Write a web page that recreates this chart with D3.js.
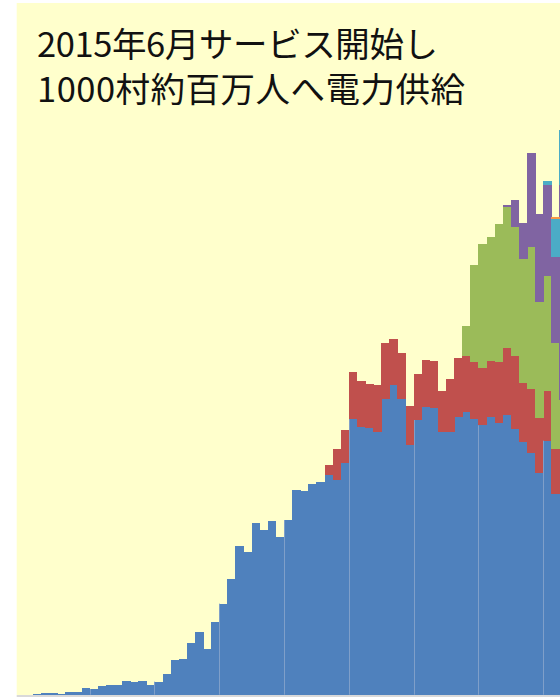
<!DOCTYPE html>
<html><head><meta charset="utf-8">
<script src="https://cdn.jsdelivr.net/npm/d3@7"></script>
<style>
html,body{margin:0;padding:0;background:#fff;}
svg{display:block;}
</style></head>
<body>
<svg id="chart" width="560" height="697"></svg>
<script>
// Title lines
const titleLines = ["2015年6月サービス開始し", "1000村約百万人へ電力供給"];

// Series values, one entry per period
const blue = [0,0,0.7,1.4,1.4,0.7,2.4,3,7,5.7,8.7,9.4,9.4,13.4,12.7,13.7,10,13,20.4,34.7,35.7,51.4,63,45.7,72.7,91,115.4,148.4,142.4,172,165,173.7,157.7,174.7,204.4,203.7,210.7,212.4,219.4,214.4,231.4,275.4,268,266.7,263,295.7,310,295.7,249.4,274.7,288,286.4,262.4,262.4,278,282.4,276,269.4,277.4,272,279.4,265.7,252.4,242,222,254,201,215];
const red = [0,0,0,0,0,0,0,0,0,0,0,0,0,0,0,0,0,0,0,0,0,0,0,0,0,0,0,0,0,0,0,0,0,0,0,0,0,0,10.7,31,33.3,47,45.4,44.3,46.4,56,45.4,45.7,39.3,45.7,46.4,47,41.3,53.3,58.7,56.6,56.7,57.3,56,61,67.3,73.3,59.6,64,55,49.3,45,45];
const green = [0,0,0,0,0,0,0,0,0,0,0,0,0,0,0,0,0,0,0,0,0,0,0,0,0,0,0,0,0,0,0,0,0,0,0,0,0,0.7,0,0,0,0,0,0,0,0,0,0,0,0,0,0,0,0,0,29.7,96.7,123.7,124.3,137.7,140.7,128.7,123.4,141.4,115.7,115,106,35];
const purple = [0,0,0,0,0,0,0,0,0,0,0,0,0,0,0,0,0,0,0,0,0,0,0,0,0,0,0,0,0,0,0,0,0,0,0,0,0,0,0,0,0,0,0,0,0,0,0,0,0,0,0,0,0,0,0,0,0,0,0,0,2,27,36.6,94,88.3,91.3,85.4,215];
const cyan = [0,0,0,0,0,0,0,0,0,0,0,0,0,0,0,0,0,0,0,0,0,0,0,0,0,0,0,0,0,0,0,0,0,0,0,0,0,0,0,0,0,0,0,0,0,0,0,0,0,0,0,0,0,0,0,0,0,0,0,0,0,0,0,0,0,4.4,38.3,55];
const orange = [0,0,0,0,0,0,0,0,0,0,0,0,0,0,0,0,0,0,0,0,0,0,0,0,0,0,0,0,0,0,0,0,0,0,0,0,0,0,0,0,0,0,0,0,0,0,0,0,0,0,0,0,0,0,0,0,0,0,0,0,0,0,0,0,0,0,1.7,0];
const seriesNames = ["blue","red","green","purple","cyan","orange"];
const seriesColors = ["#4f81bd","#c0504d","#9bbb59","#8064a2","#4bacc6","#f79646"];
const periods = blue.map((_, i) => i);
const groupEvery = 8; // faint separators every 8 periods

const svg = d3.select("#chart");
const W = 560, H = 697;
const left = 16.7, bottom = 694.7, barW = 8.1;

// plot background
svg.append("rect").attr("x", left).attr("y", 3).attr("width", W - left).attr("height", 692)
  .attr("fill", "#ffffcc");

const x = d3.scaleBand().domain(periods).range([left, left + barW * periods.length]).paddingInner(0).paddingOuter(0);
const y = d3.scaleLinear().domain([0, 600]).range([bottom, bottom - 600]);

const table = periods.map(i => ({i, blue: blue[i], red: red[i], green: green[i], purple: purple[i], cyan: cyan[i], orange: orange[i]}));
const stack = d3.stack().keys(seriesNames)(table);

const g = svg.append("g");
g.selectAll("g.layer").data(stack).join("g").attr("class","layer")
  .attr("fill", (d, k) => seriesColors[k])
  .selectAll("rect").data(d => d.filter(s => s[1] - s[0] > 0)).join("rect")
  .attr("x", d => x(d.data.i))
  .attr("width", x.bandwidth() + 0.5)
  .attr("y", d => y(d[1]))
  .attr("height", d => y(d[0]) - y(d[1]))
  .attr("shape-rendering", "crispEdges");

// faint separators inside the blue columns
g.selectAll("line.sep").data(periods.filter(i => i % groupEvery === 1 && blue[i] > 0)).join("line")
  .attr("class","sep")
  .attr("x1", d => Math.round(x(d)) + 0.5).attr("x2", d => Math.round(x(d)) + 0.5)
  .attr("y1", d => y(blue[d])).attr("y2", bottom)
  .attr("stroke", "#7f9fc9").attr("stroke-width", 1);

// bottom axis line
const xAxis = d3.axisBottom(x).tickValues([]).tickSizeOuter(0);
svg.append("g").attr("transform", `translate(0,${bottom + 1.3})`).call(xAxis)
  .call(s => s.select(".domain").attr("stroke", "#d9d9d9").attr("stroke-width", 2.2).attr("d", `M${left},0H${W}`));

// title (single text element, two lines)
const title = svg.append("text")
  .attr("font-family", "'Noto Sans CJK JP', sans-serif")
  .attr("font-size", 34.5)
  .attr("fill", "#111");
const titleLens = [401, 428];
title.selectAll("tspan").data(titleLines).join("tspan")
  .attr("x", 37).attr("y", (d, i) => 57 + i * 45)
  .attr("textLength", (d, i) => titleLens[i])
  .attr("lengthAdjust", "spacing")
  .text(d => d);
</script>
</body></html>
